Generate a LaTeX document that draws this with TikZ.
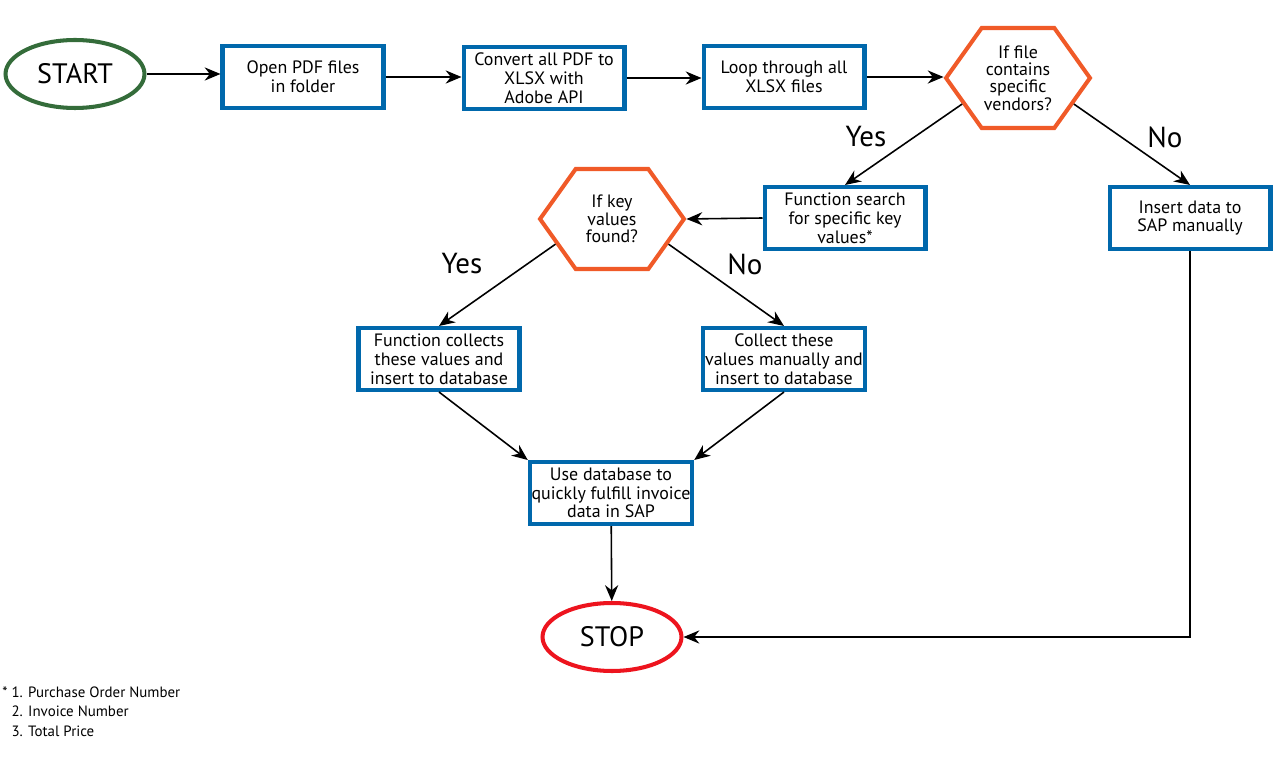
\documentclass[tikz,border=0pt]{standalone}
\usepackage{fontspec}
\setmainfont{PT Sans}
\usetikzlibrary{arrows.meta,shapes.geometric,shapes.symbols}
\definecolor{boxblue}{RGB}{0,104,172}
\definecolor{hexorange}{RGB}{240,90,40}
\definecolor{startgreen}{RGB}{52,108,58}
\definecolor{stopred}{RGB}{237,20,30}
\tikzset{
  procbox/.style={draw=boxblue, line width=2.3pt, minimum width=3.22cm, minimum height=1.24cm,
    align=center, inner sep=1pt, font=\fontsize{10.2}{10.7}\selectfont},
  decision/.style={signal, signal to=west and east, signal pointer angle=109, draw=hexorange,
    line width=2.3pt, minimum width=2.88cm, minimum height=2cm, align=center, inner sep=0pt,
    font=\fontsize{10.2}{9.9}\selectfont},
  terminal/.style={ellipse, line width=2.3pt, minimum width=2.78cm, minimum height=1.36cm,
    font=\fontsize{16}{18}\selectfont},
  answer/.style={font=\fontsize{16.5}{18}\selectfont},
  flow/.style={-{Stealth[length=9pt,width=7.5pt]}, line width=0.9pt},
}
\begin{document}
\begin{tikzpicture}[x=0.02cm,y=-0.02cm]
\useasboundingbox (0,0) rectangle (1275,763);
% top row
\node[terminal, draw=startgreen] (start) at (75,74) {START};
\node[procbox] (openpdf) at (303,77) {Open PDF files\\in folder};
\node[procbox] (convert) at (544,78) {Convert all PDF to\\XLSX with\\Adobe API};
\node[procbox] (loop) at (784,77) {Loop through all\\XLSX files};
\node[decision] (vendors) at (1018,78) {If file\\contains\\specific\\vendors?};
\draw[flow] (start.east) -- (start.east -| openpdf.west);
\draw[flow] (openpdf.east) -- (openpdf.east -| convert.west);
\draw[flow] (convert.east) -- (convert.east -| loop.west);
\draw[flow] (loop.east) -- (loop.east -| vendors.west);
% vendor check
\node[procbox] (search) at (845,218) {Function search\\for specific key\\values*};
\node[procbox] (manual) at (1190,218) {Insert data to\\SAP manually};
\node[answer] (yesA) at (866,137) {Yes};
\node[answer] (noA) at (1165,137) {No};
\draw[flow] (vendors.205) -- (search.north);
\draw[flow] (vendors.-25) -- (manual.north);
% key values check
\node[decision] (found) at (612,219) {If key\\values\\found?};
\draw[flow] (search.west) -- (found.east);
\node[procbox] (collect) at (439,359) {Function collects\\these values and\\insert to database};
\node[procbox] (collectman) at (784,359) {Collect these\\values manually and\\insert to database};
\node[answer] (yesB) at (462,264) {Yes};
\node[answer] (noB) at (745,264) {No};
\draw[flow] (found.204) -- (collect.north);
\draw[flow] (found.-24) -- (collectman.north);
% database and stop
\node[procbox] (usedb) at (611,493) {Use database to\\quickly fulfill invoice\\data in SAP};
\node[terminal, draw=stopred] (stop) at (612,637) {STOP};
\draw[flow] (collect.south) -- (usedb.north west);
\draw[flow] (collectman.south) -- (usedb.north east);
\draw[flow] (usedb) -- (stop);
\draw[flow] (manual.south) |- (stop.east);
% key values list
\node[anchor=north west, align=left, inner sep=0pt, font=\fontsize{8.5}{11.3}\selectfont] (notes) at (2,686)
  {*\ 1. Purchase Order Number\\\phantom{*\ }2. Invoice Number\\\phantom{*\ }3. Total Price};
\end{tikzpicture}
\end{document}
